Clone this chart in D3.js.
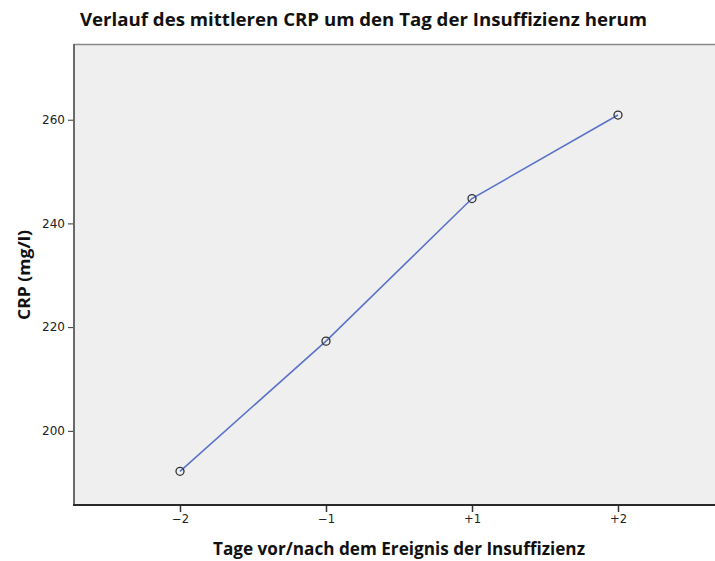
<!DOCTYPE html>
<html><head><meta charset="utf-8">
<script src="https://cdn.jsdelivr.net/npm/d3@7"></script>
<style>body{margin:0;background:#fff}svg{display:block}</style>
</head><body>
<script>
const categories = ["-2", "-1", "+1", "+2"];
const crpValues = [192.2, 217.3, 244.8, 260.9];
const yTicks = [200, 220, 240, 260];

const W = 715, H = 561;
const svg = d3.select("body").append("svg").attr("width", W).attr("height", H);
const m = {left: 74, right: 724, top: 44, bottom: 505};

const x = d3.scalePoint().domain(categories).range([180, 618]);
const y = d3.scaleLinear().domain([185.7, 274.6]).range([m.bottom, m.top]);

svg.append("rect").attr("x", m.left).attr("y", m.top)
  .attr("width", m.right - m.left).attr("height", m.bottom - m.top)
  .attr("fill", "#efefef");
svg.append("line").attr("x1", m.left).attr("x2", m.right).attr("y1", m.top+0.5).attr("y2", m.top+0.5)
  .attr("stroke", "#8a8a8a").attr("stroke-width", 1.5);

// Y axis
const yAxis = svg.append("g").attr("transform", `translate(${m.left},0)`)
  .call(d3.axisLeft(y).tickValues(yTicks).tickSize(6).tickPadding(3));
yAxis.select(".domain").remove();
yAxis.selectAll(".tick line").attr("stroke", "#333");
yAxis.selectAll(".tick text").attr("font-family", "'DejaVu Sans', sans-serif").attr("font-size", 12).attr("fill", "#222");
svg.append("line").attr("x1", m.left).attr("x2", m.left).attr("y1", m.top).attr("y2", m.bottom)
  .attr("stroke", "#6a6a6a").attr("stroke-width", 2);

// X axis
const xAxis = svg.append("g").attr("transform", `translate(0,${m.bottom})`)
  .call(d3.axisBottom(x).tickSize(7).tickPadding(3).tickFormat(d => d.replace("-", "\u2212")));
xAxis.select(".domain").remove();
xAxis.selectAll(".tick line").attr("stroke", "#333").attr("stroke-width", 1.5);
xAxis.selectAll(".tick text").attr("font-family", "'DejaVu Sans', sans-serif").attr("font-size", 11.5).attr("fill", "#222");
svg.append("line").attr("x1", m.left - 1).attr("x2", m.right).attr("y1", m.bottom).attr("y2", m.bottom)
  .attr("stroke", "#2a2a2a").attr("stroke-width", 2);

// line
const line = d3.line().x((d, i) => x(categories[i])).y(d => y(d));
svg.append("path").datum(crpValues).attr("d", line)
  .attr("fill", "none").attr("stroke", "#5a72c8").attr("stroke-width", 1.6);
svg.selectAll("circle.pt").data(crpValues).enter().append("circle")
  .attr("class", "pt").attr("cx", (d, i) => x(categories[i])).attr("cy", d => y(d))
  .attr("r", 4).attr("fill", "none").attr("stroke", "#333").attr("stroke-width", 1.3);

// texts
svg.append("text").attr("x", 80).attr("y", 26)
  .attr("font-family", "'Open Sans', sans-serif").attr("font-weight", "bold").attr("font-size", 18)
  .attr("textLength", 567).attr("lengthAdjust", "spacingAndGlyphs").attr("fill", "#111")
  .text("Verlauf des mittleren CRP um den Tag der Insuffizienz herum");
svg.append("text").attr("x", 399).attr("y", 555).attr("text-anchor", "middle")
  .attr("font-family", "'Open Sans', sans-serif").attr("font-weight", "bold").attr("font-size", 17)
  .attr("textLength", 372).attr("lengthAdjust", "spacingAndGlyphs").attr("fill", "#111")
  .text("Tage vor/nach dem Ereignis der Insuffizienz");
svg.append("text").attr("transform", "translate(30,275) rotate(-90)").attr("text-anchor", "middle")
  .attr("font-family", "'Open Sans', sans-serif").attr("font-weight", "bold").attr("font-size", 16)
  .attr("textLength", 90).attr("lengthAdjust", "spacingAndGlyphs").attr("fill", "#111")
  .text("CRP (mg/l)");
</script>
</body></html>
